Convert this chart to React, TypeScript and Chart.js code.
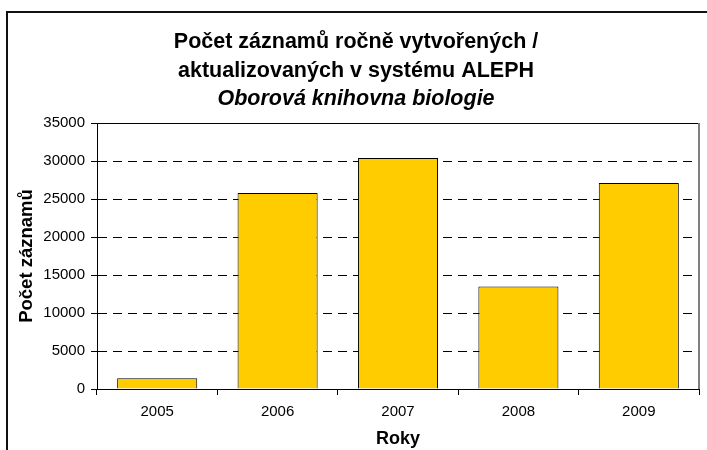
import React, { useEffect, useRef } from "react";
import { Chart, registerables } from "chart.js";

Chart.register(...registerables);

const years = ["2005", "2006", "2007", "2008", "2009"];
const records = [1400, 25800, 30400, 13500, 27100];
const yTicks = [0, 5000, 10000, 15000, 20000, 25000, 30000, 35000];
const titleLines = ["Počet záznamů ročně vytvořených /", "aktualizovaných v systému ALEPH"];
const subtitle = "Oborová knihovna biologie";
const yTitle = "Počet záznamů";
const xTitle = "Roky";

const FONT = "'Liberation Sans', Arial, sans-serif";

const framePlugin = {
  id: "frame",
  beforeDraw(chart: any) {
    const ctx = chart.ctx;
    ctx.save();
    ctx.fillStyle = "#ffffff";
    ctx.fillRect(0, 0, chart.width, chart.height);
    ctx.strokeStyle = "#111111";
    ctx.lineWidth = 2;
    ctx.strokeRect(7, 12, 760, 500);
    ctx.restore();
  },
  afterDraw(chart: any) {
    const ctx = chart.ctx;
    const a = chart.chartArea;
    ctx.save();
    ctx.fillStyle = "#000";
    ctx.textAlign = "center";
    ctx.textBaseline = "alphabetic";
    ctx.font = `bold 21.5px ${FONT}`;
    ctx.fillText(titleLines[0], 356, 48);
    ctx.fillText(titleLines[1], 356, 76.5);
    ctx.font = `italic bold 21.5px ${FONT}`;
    ctx.fillText(subtitle, 356, 105);
    ctx.lineWidth = 1;
    ctx.strokeStyle = "#000";
    ctx.beginPath();
    ctx.moveTo(a.left, Math.round(a.top) + 0.5);
    ctx.lineTo(a.right, Math.round(a.top) + 0.5);
    ctx.stroke();
    ctx.strokeStyle = "#808080";
    ctx.lineWidth = 2;
    ctx.beginPath();
    ctx.moveTo(Math.round(a.right), a.top);
    ctx.lineTo(Math.round(a.right), a.bottom);
    ctx.stroke();
    ctx.restore();
  },
};

export default function App() {
  const ref = useRef<HTMLCanvasElement>(null);
  useEffect(() => {
    if (!ref.current) return;
    const chart = new Chart(ref.current, {
      type: "bar",
      data: {
        labels: years,
        datasets: [
          {
            data: records,
            backgroundColor: "#FFCC00",
            borderColor: "#000000",
            borderWidth: 1,
            barPercentage: 0.665,
            categoryPercentage: 1,
          },
        ],
      },
      options: {
        animation: false,
        responsive: false,
        maintainAspectRatio: false,
        layout: { padding: { left: 8, right: 8, top: 123, bottom: 0 } },
        plugins: {
          legend: { display: false },
          tooltip: { enabled: false },
          title: { display: false },
        },
        scales: {
          x: {
            afterFit: (s: any) => {
              s.height = 61;
            },
            grid: {
              display: true,
              offset: true,
              drawOnChartArea: false,
              drawTicks: true,
              tickLength: 6,
              tickColor: "#000",
              color: "#000",
            },
            border: { display: true, color: "#000", width: 1 },
            ticks: {
              color: "#000",
              padding: 8,
              font: { family: FONT, size: 15 },
            },
            title: {
              display: true,
              text: xTitle,
              color: "#000",
              font: { family: FONT, size: 18, weight: "bold" },
              padding: { top: 0, bottom: 0 },
            },
          },
          y: {
            min: 0,
            max: 35000,
            afterFit: (s: any) => {
              s.width = 89;
            },
            afterBuildTicks: (s: any) => {
              s.ticks = yTicks.map((v) => ({ value: v }));
            },
            grid: {
              display: true,
              drawOnChartArea: true,
              drawTicks: true,
              tickLength: 6,
              tickColor: "#000",
              color: "#000",
              lineWidth: 1,
            },
            border: { display: true, color: "#000", width: 1, dash: [9, 6] },
            ticks: {
              color: "#000",
              padding: 6,
              font: { family: FONT, size: 15 },
              callback: (v: any) => String(v),
            },
            title: {
              display: true,
              text: yTitle,
              color: "#000",
              font: { family: FONT, size: 18.5, weight: "bold" },
              padding: { top: 8, bottom: 0 },
            },
          },
        },
      },
      plugins: [framePlugin],
    } as any);
    return () => chart.destroy();
  }, []);
  return (
    <div style={{ position: "absolute", left: 0, top: 0, width: 707, height: 450 }}>
      <canvas ref={ref} width={707} height={450} style={{ width: 707, height: 450, display: "block" }} />
    </div>
  );
}
